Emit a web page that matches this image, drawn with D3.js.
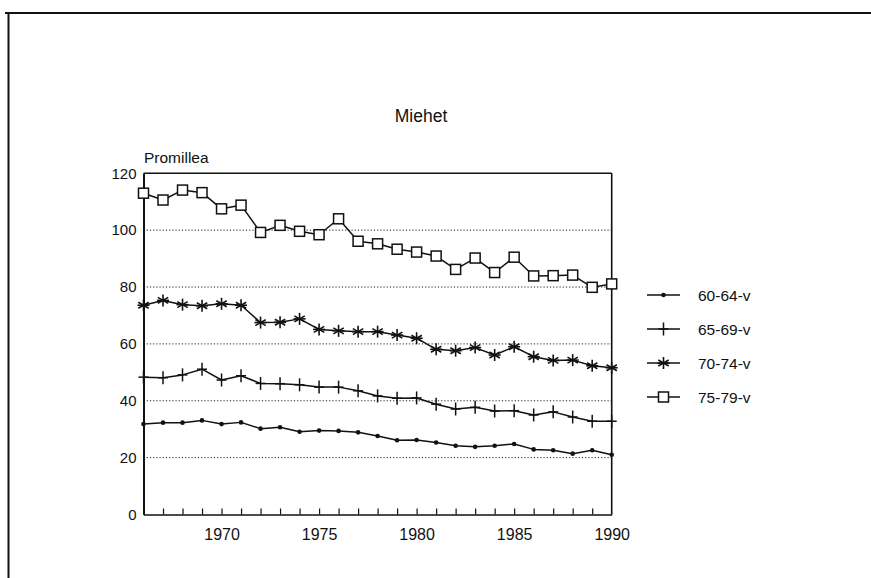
<!DOCTYPE html>
<html>
<head>
<meta charset="utf-8">
<script src="https://cdn.jsdelivr.net/npm/d3@7"></script>
<style>
  html, body { margin: 0; padding: 0; background: #fff; }
  svg { display: block; }
  text { font-family: "Liberation Sans", Arial, Helvetica, sans-serif; fill: #111; }
</style>
</head>
<body>
<svg id="chart" width="871" height="578"></svg>
<script>
// ---- data ----
const years = [1966,1967,1968,1969,1970,1971,1972,1973,1974,1975,1976,1977,1978,
               1979,1980,1981,1982,1983,1984,1985,1986,1987,1988,1989,1990];
const s6064 = [31.8,32.3,32.3,33.1,31.8,32.4,30.2,30.7,29.1,29.5,29.4,28.9,27.6,
               26.1,26.2,25.3,24.2,23.8,24.2,24.8,22.9,22.6,21.4,22.6,21.0];
const s6569 = [48.3,48.1,49.1,51.1,47.3,48.8,46.1,46.0,45.6,44.8,44.8,43.5,41.7,
               40.9,41.0,38.8,37.1,37.7,36.4,36.5,35.0,36.1,34.3,32.8,32.8];
const s7074 = [73.6,75.3,73.8,73.4,74.1,73.6,67.5,67.6,68.8,65.1,64.6,64.3,64.3,
               63.1,62.0,58.1,57.6,58.7,56.1,59.0,55.5,54.2,54.3,52.3,51.6];
const s7579 = [113.0,110.6,114.1,113.2,107.5,108.8,99.2,101.7,99.6,98.4,104.0,96.1,95.2,
               93.3,92.3,90.9,86.2,90.2,85.1,90.5,83.9,84.0,84.2,79.9,81.1];
const seriesNames = ["60-64-v","65-69-v","70-74-v","75-79-v"];
const seriesMarkers = ["dot","cross","star","square"];
const yTicks = [0,20,40,60,80,100,120];
const gridValues = [20,40,60,80,100];
const xLabelYears = [1970,1975,1980,1985,1990];
const titleText = "Miehet";
const yUnitText = "Promillea";

const allSeries = [s6064, s6569, s7074, s7579];

// ---- layout ----
const svg = d3.select("#chart");
const x = d3.scaleLinear().domain([1966, 1990]).range([143.5, 611.7]);
const y = d3.scaleLinear().domain([0, 120]).range([514.5, 173.3]);

// outer frame (top and left edges only)
svg.append("line").attr("x1", 5).attr("x2", 871).attr("y1", 13).attr("y2", 13)
  .attr("stroke", "#111").attr("stroke-width", 2);
svg.append("line").attr("x1", 8.5).attr("x2", 8.5).attr("y1", 13).attr("y2", 578)
  .attr("stroke", "#111").attr("stroke-width", 2);

// title
svg.append("text").attr("x", 421).attr("y", 122).attr("text-anchor", "middle")
  .attr("font-size", 17.5).text(titleText);

// unit label
svg.append("text").attr("x", 144).attr("y", 162.5).attr("font-size", 15.5).text(yUnitText);

// gridlines
svg.append("g").selectAll("line").data(gridValues).join("line")
  .attr("x1", x(1966)).attr("x2", x(1990))
  .attr("y1", d => y(d)).attr("y2", d => y(d))
  .attr("stroke", "#222").attr("stroke-width", 1).attr("stroke-dasharray", "1.2,2");

// x axis
const xAxis = d3.axisBottom(x)
  .tickValues(years)
  .tickSizeInner(-6).tickSizeOuter(0).tickPadding(14.5)
  .tickFormat(d => xLabelYears.includes(d) ? String(d) : "");
const gx = svg.append("g").attr("transform", `translate(0,${y(0)})`).call(xAxis);
gx.select(".domain").attr("stroke", "#111").attr("stroke-width", 1.6);
gx.selectAll(".tick line").attr("stroke", "#111").attr("stroke-width", 1.2)
  .filter(d => d === 1966 || d === 1990).remove();
gx.selectAll(".tick text").attr("font-size", 16).attr("fill", "#111")
  .attr("font-family", '"Liberation Sans", Arial, sans-serif');

// y axis
const yAxis = d3.axisLeft(y).tickValues(yTicks).tickSize(0).tickPadding(7)
  .tickFormat(d3.format("d"));
const gy = svg.append("g").attr("transform", `translate(${x(1966)},0)`).call(yAxis);
gy.select(".domain").attr("stroke", "#111").attr("stroke-width", 2);
gy.selectAll(".tick text").attr("font-size", 15).attr("fill", "#111")
  .attr("font-family", '"Liberation Sans", Arial, sans-serif');

// top and right borders of plot area
svg.append("line").attr("x1", x(1966)).attr("x2", x(1990)).attr("y1", y(120)).attr("y2", y(120))
  .attr("stroke", "#111").attr("stroke-width", 1.6);
svg.append("line").attr("x1", x(1990)).attr("x2", x(1990)).attr("y1", y(120)).attr("y2", y(0))
  .attr("stroke", "#111").attr("stroke-width", 1.6);

// marker drawing
function drawMarker(g, type, cx, cy) {
  const s = "#111";
  if (type === "dot") {
    g.append("circle").attr("cx", cx).attr("cy", cy).attr("r", 2.3).attr("fill", s);
  } else if (type === "cross") {
    g.append("line").attr("x1", cx).attr("x2", cx).attr("y1", cy - 6.5).attr("y2", cy + 6.5)
      .attr("stroke", s).attr("stroke-width", 1.5);
    g.append("line").attr("x1", cx - 5).attr("x2", cx + 5).attr("y1", cy).attr("y2", cy)
      .attr("stroke", s).attr("stroke-width", 1.5);
  } else if (type === "star") {
    const r = 6;
    const angles = [90, 30, -30, 0];
    angles.forEach(a => {
      const rad = a * Math.PI / 180;
      const dx = r * Math.cos(rad), dy = r * Math.sin(rad);
      g.append("line").attr("x1", cx - dx).attr("x2", cx + dx).attr("y1", cy - dy).attr("y2", cy + dy)
        .attr("stroke", s).attr("stroke-width", 1.6);
    });
  } else if (type === "square") {
    const h = 5;
    g.append("rect").attr("x", cx - h).attr("y", cy - h).attr("width", 2 * h).attr("height", 2 * h)
      .attr("fill", "#fff").attr("stroke", s).attr("stroke-width", 1.5);
  }
}

// series
const line = d3.line().x(d => x(d[0])).y(d => y(d[1]));
allSeries.forEach((vals, i) => {
  const pts = years.map((yr, j) => [yr, vals[j]]);
  const g = svg.append("g");
  g.append("path").attr("d", line(pts)).attr("fill", "none")
    .attr("stroke", "#111").attr("stroke-width", 1.5).attr("stroke-linejoin", "round");
  pts.forEach(p => drawMarker(g, seriesMarkers[i], x(p[0]), y(p[1])));
});

// legend
const legendY = [295, 329, 363, 397];
seriesNames.forEach((name, i) => {
  const g = svg.append("g");
  const ly = legendY[i];
  g.append("line").attr("x1", 647).attr("x2", 680).attr("y1", ly).attr("y2", ly)
    .attr("stroke", "#111").attr("stroke-width", 1.5);
  drawMarker(g, seriesMarkers[i], 663.5, ly);
  g.append("text").attr("x", 698).attr("y", ly + 5.5).attr("font-size", 15.5).text(name);
});
</script>
</body>
</html>
